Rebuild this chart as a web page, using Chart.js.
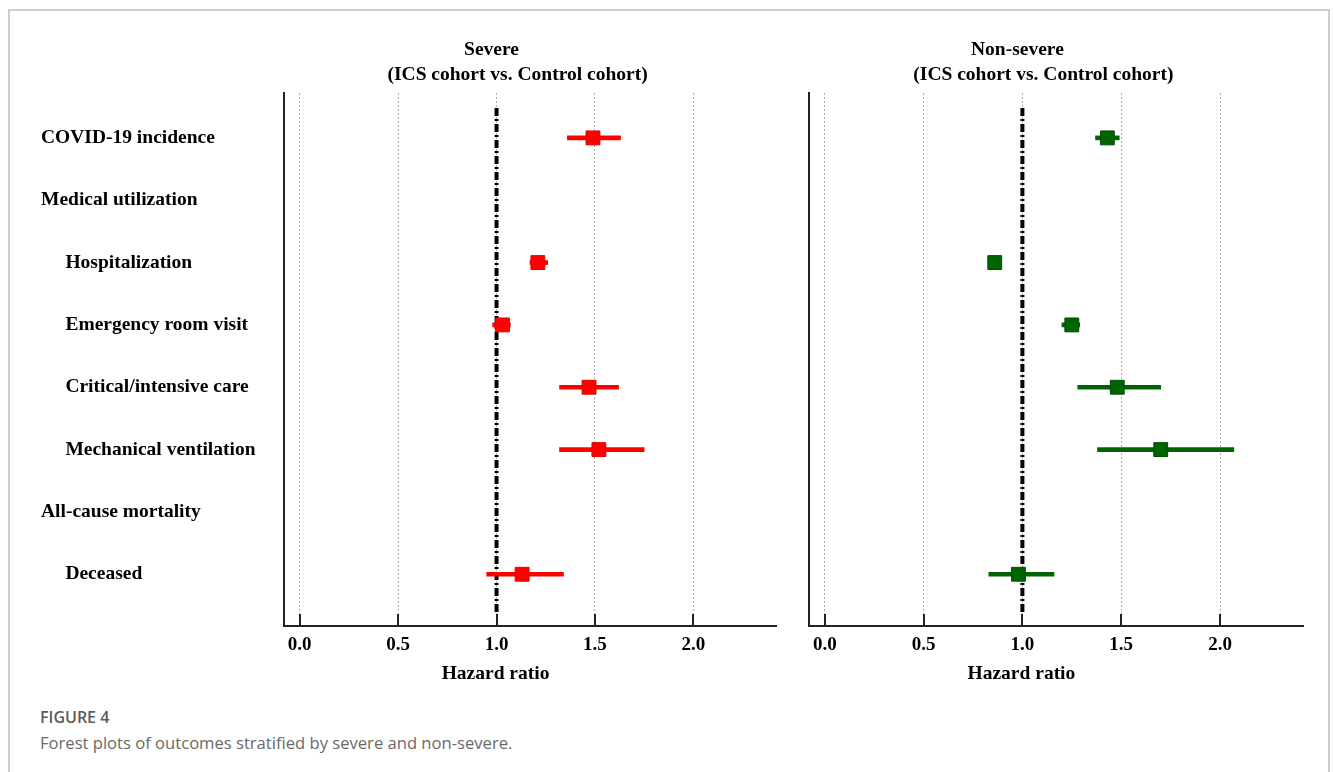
<!DOCTYPE html>
<html><head><meta charset="utf-8">
<script src="https://cdn.jsdelivr.net/npm/chart.js@4.4.1/dist/chart.umd.min.js"></script>
<style>
html,body{margin:0;padding:0;background:#fff;width:1333px;height:772px;overflow:hidden;position:relative;}
#frame{position:absolute;left:8px;top:9px;width:1322px;height:800px;border:2px solid #cdcdcd;border-bottom:none;box-sizing:border-box;}
#c1{position:absolute;left:0;top:0;}
#c2{position:absolute;left:790px;top:0;}
.cap1{position:absolute;left:40px;top:706px;font:600 16px 'Open Sans',sans-serif;color:#5a5a5a;}
.cap2{position:absolute;left:40px;top:731px;font:400 16.6px 'Open Sans',sans-serif;color:#6a6a6a;}
</style></head>
<body>
<div id="frame"></div>
<canvas id="c1" width="790" height="700"></canvas>
<canvas id="c2" width="543" height="700"></canvas>
<div class="cap1">FIGURE 4</div>
<div class="cap2">Forest plots of outcomes stratified by severe and non-severe.</div>
<script>
// ---- data ----
const rowLabels = ['COVID-19 incidence','Medical utilization','Hospitalization','Emergency room visit','Critical/intensive care','Mechanical ventilation','All-cause mortality','Deceased'];
const rowIndent = [0,0,1,1,1,1,0,1];
const xTicks = [0, 0.5, 1.0, 1.5, 2.0];
const severeHR = [1.49, null, 1.21, 1.03, 1.47, 1.52, null, 1.13];
const severeLo = [1.36, null, 1.17, 0.98, 1.32, 1.32, null, 0.95];
const severeHi = [1.63, null, 1.26, 1.07, 1.62, 1.75, null, 1.34];
const nonSevereHR = [1.43, null, 0.86, 1.25, 1.48, 1.70, null, 0.98];
const nonSevereLo = [1.37, null, 0.84, 1.20, 1.28, 1.38, null, 0.83];
const nonSevereHi = [1.49, null, 0.88, 1.29, 1.70, 2.07, null, 1.16];
const refHR = 1.0;
const refSpan = [-0.48, 7.61];
const severeTitle = ['Severe', '(ICS cohort vs. Control cohort)'];
const nonSevereTitle = ['Non-severe', '(ICS cohort vs. Control cohort)'];
const axisTitle = 'Hazard ratio';

const SERIF = "'Liberation Serif','Times New Roman',serif";

const innerTicks = {
  id: 'innerTicks',
  afterDraw(chart) {
    const {ctx, chartArea} = chart;
    const xs = chart.scales.x;
    ctx.save();
    ctx.strokeStyle = '#222';
    ctx.lineWidth = 2;
    xTicks.forEach(v => {
      const px = Math.round(xs.getPixelForValue(v));
      ctx.beginPath();
      ctx.moveTo(px, chartArea.bottom);
      ctx.lineTo(px, chartArea.bottom - 12);
      ctx.stroke();
    });
    ctx.restore();
  }
};

const panelText = {
  id: 'panelText',
  afterDraw(chart, args, opts) {
    const {ctx} = chart;
    const cx = chart.scales.x.getPixelForValue(opts.center);
    ctx.save();
    ctx.fillStyle = '#000';
    ctx.textAlign = 'center';
    ctx.textBaseline = 'middle';
    opts.lines.forEach(l => {
      ctx.font = 'bold 19.5px ' + SERIF;
      ctx.fillText(l.text, cx + l.dx, l.y);
    });
    ctx.restore();
  }
};

function makeChart(id, hr, lo, hi, color, border, titleLines, showLabels, padLeft, yWidth, padRight) {
  const rows = rowLabels.map((_, i) => i);
  return new Chart(document.getElementById(id), {
    type: 'bar',
    data: {
      datasets: [
        {
          type: 'bar',
          indexAxis: 'y',
          data: rows.filter(i => hr[i] !== null).map(i => ({x: [lo[i], hi[i]], y: i})),
          backgroundColor: color,
          borderWidth: 0,
          barThickness: 4,
          order: 2
        },
        {
          type: 'scatter',
          data: rows.filter(i => hr[i] !== null).map(i => ({x: hr[i], y: i})),
          pointStyle: 'rect',
          pointRadius: 9.8,
          backgroundColor: color,
          borderColor: border,
          borderWidth: 1,
          order: 1
        },
        {
          type: 'line',
          data: [{x: refHR, y: refSpan[0]}, {x: refHR, y: refSpan[1]}],
          borderColor: '#000',
          borderWidth: 4,
          borderDash: [8, 3, 2, 3],
          pointRadius: 0,
          order: 3
        }
      ]
    },
    options: {
      responsive: false,
      animation: false,
      events: [],
      layout: {padding: {top: 93, left: padLeft, right: padRight, bottom: 24}},
      plugins: {
        legend: {display: false},
        tooltip: {enabled: false},
        title: {display: false},
        panelText: {
          center: refHR,
          lines: [
            {text: titleLines[0], dx: -5, y: 50},
            {text: titleLines[1], dx: 21, y: 75},
            {text: axisTitle, dx: -1, y: 674}
          ]
        }
      },
      scales: {
        x: {
          type: 'linear',
          offset: false,
          min: -0.08,
          max: 2.42,
          afterBuildTicks: s => { s.ticks = xTicks.map(v => ({value: v})); },
          afterFit: s => { s.height = 50; },
          ticks: {
            callback: v => Number(v).toFixed(1),
            font: {family: SERIF, size: 19, weight: 'bold'},
            color: '#000',
            padding: 8,
            maxRotation: 0,
            autoSkip: false
          },
          grid: {display: true, offset: false, color: '#aeaeae', lineWidth: 1, drawTicks: false},
          border: {display: true, color: '#222', width: 2, dash: [2, 2]}
        },
        y: {
          type: 'linear',
          offset: false,
          reverse: true,
          min: -0.72,
          max: 7.83,
          afterBuildTicks: s => { s.ticks = rowLabels.map((_, i) => ({value: i})); },
          afterFit: s => { s.width = yWidth; },
          ticks: {
            display: showLabels,
            autoSkip: false,
            crossAlign: 'far',
            callback: v => (rowIndent[v] ? '     ' : '') + rowLabels[v],
            font: {family: SERIF, size: 19.5, weight: 'bold'},
            color: '#000'
          },
          grid: {display: true, offset: false, color: 'rgba(0,0,0,0)', drawTicks: false},
          border: {display: true, color: '#222', width: 2}
        }
      }
    },
    plugins: [innerTicks, panelText]
  });
}

makeChart('c1', severeHR, severeLo, severeHi, '#ff0000', '#e00000', severeTitle, true, 41, 243, 14);
makeChart('c2', nonSevereHR, nonSevereLo, nonSevereHi, '#006400', '#004d00', nonSevereTitle, false, 0, 19, 30);
</script>
</body></html>
